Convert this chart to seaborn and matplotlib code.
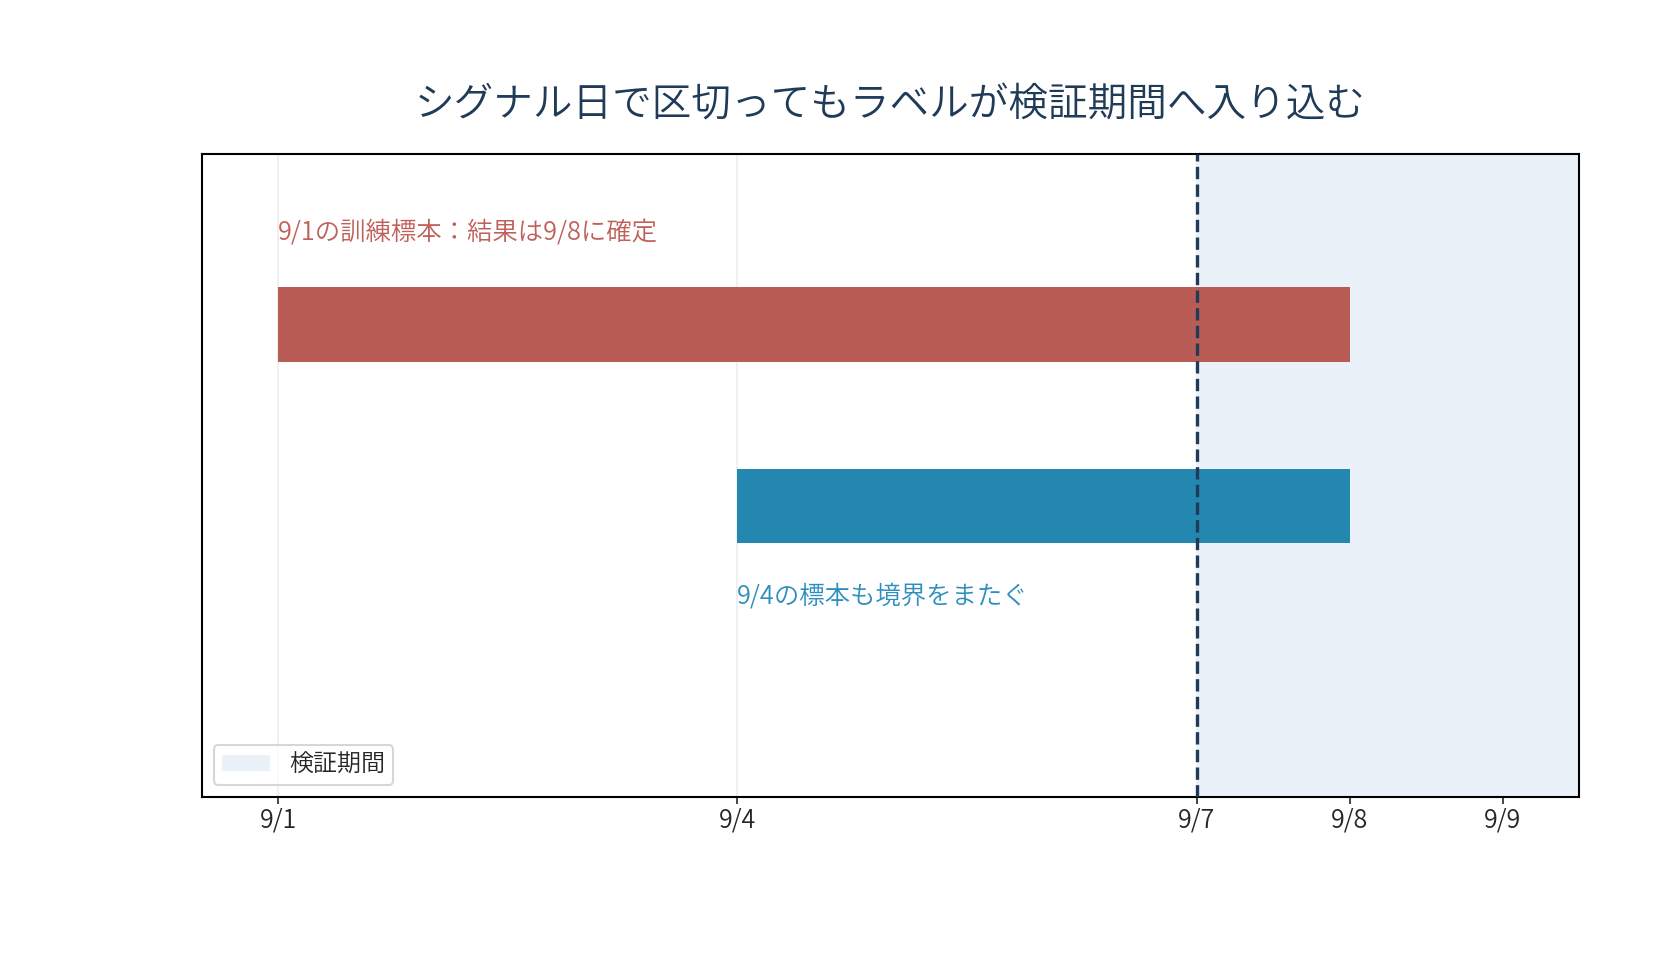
import numpy as np
import pandas as pd
import matplotlib
matplotlib.use("Agg")
import matplotlib.pyplot as plt
import seaborn as sns

# Data
days = [1, 2, 3, 4, 5, 6, 7, 8, 9]
tick_days = [1, 4, 7, 8, 9]
tick_labels = ["9/1", "9/4", "9/7", "9/8", "9/9"]
sample_names = ["9/1の標本", "9/4の標本"]
sample_start = [1, 4]
sample_end = [8, 8]
sample_y = [1, 0]
split_day = 7
notes = ["9/1の訓練標本：結果は9/8に確定", "9/4の標本も境界をまたぐ"]

sns.set_style("ticks")
plt.rcParams['font.family'] = ['Noto Sans CJK JP', 'DejaVu Sans']
plt.rcParams['font.weight'] = 350

red = "#B85C55"
blue = "#2387B0"
navy = "#1F3B57"

fig = plt.figure(figsize=(11.2, 6.4), dpi=150)
ax = fig.add_axes([0.120, 0.170, 0.820, 0.670])

ax.grid(axis="x", color="#EEEEEE", linewidth=0.8)
ax.set_axisbelow(True)

# validation span
ax.axvspan(split_day, 9.5, color="#EAF1F9", zorder=1, linewidth=0, label="検証期間")

colors = [red, blue]
for s, e, y, c in zip(sample_start, sample_end, sample_y, colors):
    ax.barh(y, e - s, left=s, height=0.41, color=c, linewidth=0, zorder=2)

ax.axvline(split_day, color=navy, linestyle="--", linewidth=1.6, zorder=3)

ax.text(1.0, 1.50, notes[0], color="#C0605A", fontsize=12.2, va="center", ha="left")
ax.text(4.0, -0.50, notes[1], color="#2E8FBF", fontsize=12.2, va="center", ha="left")

ax.set_xlim(0.5, 9.5)
ax.set_ylim(-1.6, 1.94)
ax.set_xticks(tick_days)
ax.set_xticklabels(tick_labels, fontsize=12)
ax.tick_params(axis="x", length=3.5, width=0.8, pad=1.5)
ax.set_yticks([])
for sp in ax.spines.values():
    sp.set_color("black")
    sp.set_linewidth(1.0)

ax.set_title("シグナル日で区切ってもラベルが検証期間へ入り込む", fontsize=19,
             color=navy, pad=18, fontweight=350)
ax.legend(loc="lower left", fontsize=11.5, frameon=True, fancybox=True,
          handlelength=2.0, borderpad=0.35)

fig.savefig("out.png", dpi=150)
